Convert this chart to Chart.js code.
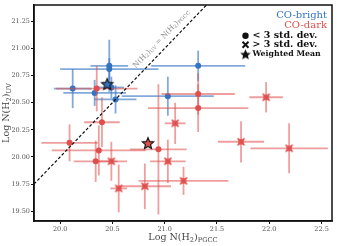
<!DOCTYPE html>
<html>
<head>
<meta charset="utf-8">
<script src="https://cdn.jsdelivr.net/npm/chart.js@4.4.1/dist/chart.umd.min.js"></script>
<style>
  html, body { margin: 0; padding: 0; background: #fff; }
</style>
</head>
<body>
<canvas id="c" width="337" height="246"></canvas>
<script>
// ---- data ----
const xTicks = [20.0, 20.5, 21.0, 21.5, 22.0, 22.5];
const yTicks = [19.50, 19.75, 20.00, 20.25, 20.50, 20.75, 21.00, 21.25];
const xRange = [19.75, 22.6];
const yRange = [19.41, 21.40];

// CO-bright, < 3 std. dev.
const brightX    = [20.12, 20.47, 20.47, 20.49, 21.32, 20.33, 20.53, 21.03];
const brightY    = [20.63, 20.84, 20.81, 20.64, 20.84, 20.59, 20.53, 20.56];
const brightXErr = [0.18, 0.18, 0.47, 0.12, 0.45, 0.30, 0.20, 0.44];
const brightYErr = [0.18, 0.24, 0.10, 0.10, 0.14, 0.12, 0.13, 0.18];

// CO-dark, < 3 std. dev.
const darkX    = [20.35, 20.40, 20.09, 20.37, 20.34, 20.94, 21.32, 21.32];
const darkY    = [20.63, 20.32, 20.13, 20.06, 19.96, 20.07, 20.58, 20.45];
const darkXErr = [0.39, 0.17, 0.27, 0.45, 0.21, 0.27, 0.35, 0.48];
const darkYErr = [0.21, 0.23, 0.17, 0.23, 0.19, 0.60, 0.19, 0.22];

// CO-dark, > 3 std. dev.
const darkOutX    = [20.49, 20.56, 20.81, 21.03, 21.18, 21.73, 21.97, 22.19, 21.10];
const darkOutY    = [19.96, 19.71, 19.73, 19.96, 19.78, 20.14, 20.55, 20.08, 20.31];
const darkOutXErr = [0.15, 0.08, 0.25, 0.17, 0.43, 0.22, 0.16, 0.37, 0.10];
const darkOutYErr = [0.18, 0.22, 0.21, 0.20, 0.13, 0.19, 0.14, 0.23, 0.19];

// weighted means
const meanBright = [20.45, 20.675];
const meanDark   = [20.84, 20.13];

// one-to-one line
const oneToOne = [19.75, 21.40];

const BLUE = '#3574c1', BLUE_BAR = 'rgba(53,116,193,0.62)';
const RED  = '#df4f4d', RED_BAR  = 'rgba(223,79,77,0.55)';
const FONT = '"DejaVu Serif", serif';

const pts = (xs, ys) => xs.map((v, i) => ({x: v, y: ys[i]}));

function starImg(fill, r) {
  const c = document.createElement('canvas');
  const s = Math.ceil(r * 2 + 4);
  c.width = s; c.height = s;
  const g = c.getContext('2d');
  g.translate(s / 2, s / 2 + 0.8);
  g.beginPath();
  for (let i = 0; i < 10; i++) {
    const rr = i % 2 ? r * 0.45 : r;
    const a = -Math.PI / 2 + i * Math.PI / 5;
    g.lineTo(Math.cos(a) * rr, Math.sin(a) * rr);
  }
  g.closePath();
  g.fillStyle = fill; g.fill();
  g.lineWidth = 1.1; g.strokeStyle = '#111'; g.stroke();
  return c;
}

function crossImg(color) {
  const c = document.createElement('canvas');
  c.width = 10; c.height = 10;
  const g = c.getContext('2d');
  g.fillStyle = color;
  g.globalAlpha = 0.85;
  g.fillRect(2.2, 2.2, 5.6, 5.6);
  g.globalAlpha = 1;
  g.strokeStyle = color; g.lineWidth = 1.6;
  g.beginPath();
  g.moveTo(1.5, 1.5); g.lineTo(8.5, 8.5);
  g.moveTo(8.5, 1.5); g.lineTo(1.5, 8.5);
  g.stroke();
  return c;
}

// draws error bars just before each dataset's markers
const errorBars = {
  id: 'errorBars',
  beforeDatasetDraw(chart, args) {
    const ds = chart.data.datasets[args.index];
    if (!ds.xErr) return;
    const {ctx, chartArea: a, scales: {x, y}} = chart;
    ctx.save();
    ctx.beginPath(); ctx.rect(a.left, a.top, a.width, a.height); ctx.clip();
    ctx.strokeStyle = ds.barColor; ctx.lineWidth = 1.8;
    ds.data.forEach((p, i) => {
      const px = x.getPixelForValue(p.x), py = y.getPixelForValue(p.y);
      ctx.beginPath();
      ctx.moveTo(x.getPixelForValue(p.x - ds.xErr[i]), py);
      ctx.lineTo(x.getPixelForValue(p.x + ds.xErr[i]), py);
      ctx.stroke();
      ctx.beginPath();
      ctx.moveTo(px, y.getPixelForValue(p.y - ds.yErr[i]));
      ctx.lineTo(px, y.getPixelForValue(p.y + ds.yErr[i]));
      ctx.stroke();
    });
    ctx.restore();
  }
};

// text with subscript pieces: [[text, isSub], ...]
function subText(ctx, parts, size) {
  let w = 0;
  parts.forEach(([t, sub]) => {
    ctx.font = (sub ? size * 0.7 : size) + 'px ' + FONT;
    w += ctx.measureText(t).width;
  });
  return {
    width: w,
    draw(x0, y0) {
      let xx = x0;
      parts.forEach(([t, sub]) => {
        ctx.font = (sub ? size * 0.7 : size) + 'px ' + FONT;
        ctx.fillText(t, xx, y0 + (sub ? size * 0.22 : 0));
        xx += ctx.measureText(t).width;
      });
    }
  };
}

const decorations = {
  id: 'decorations',
  afterDraw(chart) {
    const {ctx, chartArea: a, scales: {x, y}} = chart;
    ctx.save();
    // frame
    ctx.strokeStyle = '#111'; ctx.lineWidth = 1.5;
    ctx.strokeRect(a.left, a.top, a.width, a.height);

    // axis titles
    ctx.fillStyle = '#444'; ctx.textBaseline = 'middle'; ctx.textAlign = 'left';
    const xt = subText(ctx, [['Log N(H', 0], ['2', 1], [')', 0], ['PGCC', 1]], 9.5);
    xt.draw((a.left + a.right) / 2 - xt.width / 2, 238);
    const yt = subText(ctx, [['Log N(H', 0], ['2', 1], [')', 0], ['UV', 1]], 9.5);
    ctx.save();
    ctx.translate(7, (a.top + a.bottom) / 2);
    ctx.rotate(-Math.PI / 2);
    yt.draw(-yt.width / 2, 0);
    ctx.restore();

    // one-to-one label
    const v = 21.03;
    const lx = x.getPixelForValue(v), ly = y.getPixelForValue(v);
    const ang = Math.atan2(y.getPixelForValue(v + 1) - ly, x.getPixelForValue(v + 1) - lx);
    ctx.save();
    ctx.translate(lx, ly);
    ctx.rotate(ang);
    ctx.fillStyle = '#888';
    const lt = subText(ctx, [['N(H', 0], ['2', 1], [')', 0], ['UV', 1], [' = N(H', 0], ['2', 1], [')', 0], ['PGCC', 1]], 7.3);
    lt.draw(-lt.width / 2, -9);
    ctx.restore();

    // legend
    const right = a.right - 5;
    ctx.textAlign = 'right';
    ctx.font = '10px ' + FONT;
    ctx.fillStyle = BLUE; ctx.fillText('CO-bright', right, 15.5);
    ctx.fillStyle = RED;  ctx.fillText('CO-dark', right, 25.5);
    ctx.fillStyle = '#111';
    ctx.textAlign = 'left';
    const tx = 252.5, mx = 245.5;
    ctx.font = 'bold 9.5px ' + FONT;
    ctx.fillText('< 3 std. dev.', tx, 35.8);
    ctx.fillText('> 3 std. dev.', tx, 44.8);
    ctx.font = 'bold 7.8px ' + FONT;
    ctx.fillText('Weighted Mean', tx, 54.2);
    ctx.beginPath(); ctx.arc(mx, 35.8, 3.2, 0, Math.PI * 2); ctx.fill();
    ctx.strokeStyle = '#111'; ctx.lineWidth = 2;
    ctx.beginPath();
    ctx.moveTo(mx - 3, 41.8); ctx.lineTo(mx + 3, 47.8);
    ctx.moveTo(mx + 3, 41.8); ctx.lineTo(mx - 3, 47.8);
    ctx.stroke();
    const st = starImg('#111', 4.2);
    ctx.drawImage(st, mx - st.width / 2, 54 - st.height / 2);
    ctx.restore();
  }
};

const axisFont = {family: FONT, size: 6.5};

new Chart(document.getElementById('c'), {
  type: 'scatter',
  data: {
    datasets: [
      {
        type: 'line', data: pts(oneToOne, oneToOne), order: 0,
        borderColor: '#111', borderWidth: 1.2, borderDash: [3, 2],
        pointRadius: 0, fill: false
      },
      {
        data: pts([meanDark[0]], [meanDark[1]]), order: 1,
        pointStyle: starImg(RED, 6)
      },
      {
        data: pts([meanBright[0]], [meanBright[1]]), order: 2,
        pointStyle: starImg(BLUE, 6)
      },
      {
        data: pts(darkOutX, darkOutY), xErr: darkOutXErr, yErr: darkOutYErr,
        barColor: RED_BAR, order: 3, pointStyle: crossImg(RED)
      },
      {
        data: pts(darkX, darkY), xErr: darkXErr, yErr: darkYErr,
        barColor: RED_BAR, order: 4,
        pointRadius: 3, backgroundColor: RED, borderColor: RED, borderWidth: 0
      },
      {
        data: pts(brightX, brightY), xErr: brightXErr, yErr: brightYErr,
        barColor: BLUE_BAR, order: 5,
        pointRadius: 3, backgroundColor: BLUE, borderColor: BLUE, borderWidth: 0
      }
    ]
  },
  options: {
    responsive: false,
    animation: false,
    events: [],
    layout: {padding: {top: 4, right: 5, left: 0, bottom: 0}},
    plugins: {legend: {display: false}, tooltip: {enabled: false}},
    scales: {
      x: {
        type: 'linear', min: xRange[0], max: xRange[1],
        afterBuildTicks: s => { s.ticks = xTicks.map(v => ({value: v})); },
        afterFit: s => { s.height = 25; },
        ticks: {font: axisFont, color: '#555', padding: 1, maxRotation: 0,
                callback: v => v.toFixed(1)},
        grid: {drawOnChartArea: false, tickLength: 3, color: '#111'},
        border: {color: '#111', width: 1.5}
      },
      y: {
        type: 'linear', min: yRange[0], max: yRange[1],
        afterBuildTicks: s => { s.ticks = yTicks.map(v => ({value: v})); },
        afterFit: s => { s.width = 34; },
        ticks: {font: axisFont, color: '#555', padding: 1,
                callback: v => v.toFixed(2)},
        grid: {drawOnChartArea: false, tickLength: 3, color: '#111'},
        border: {color: '#111', width: 1.5}
      }
    }
  },
  plugins: [errorBars, decorations]
});
</script>
</body>
</html>
